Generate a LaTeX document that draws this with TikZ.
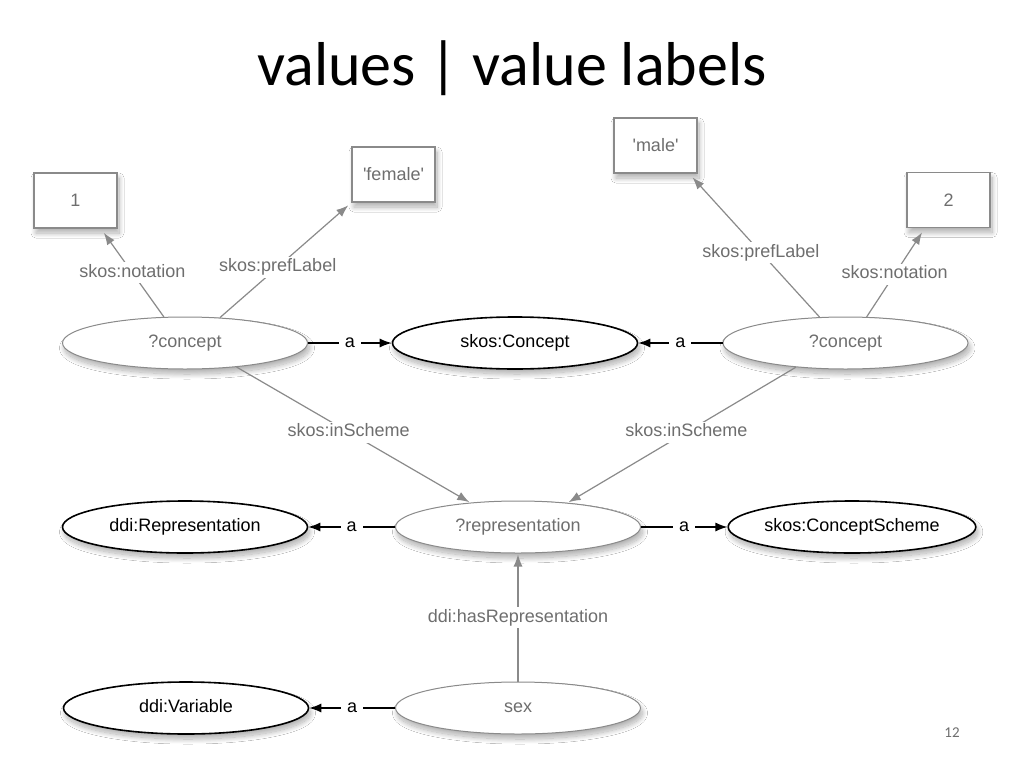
\documentclass[tikz,border=0pt]{standalone}
\usepackage{fontspec}
\setmainfont{Liberation Sans}
\newfontfamily\dfont{Liberation Sans}
\newfontfamily\titlefont{Carlito}
\usetikzlibrary{arrows.meta,shapes.geometric,shadows.blur}
\definecolor{edgegray}{HTML}{8A8A8A}
\definecolor{textgray}{HTML}{6E6E6E}
\begin{document}
\begin{tikzpicture}[x=1pt,y=-1pt,
  every node/.style={font=\dfont\fontsize{18}{20}\selectfont, text height=13pt, text depth=4pt},
  shad/.style={blur shadow={shadow xshift=2pt,shadow yshift=-5pt,shadow blur steps=20,shadow opacity=32,shadow blur radius=5pt}},
  grayell/.style={ellipse, draw=edgegray, line width=1pt, fill=white, text=textgray, minimum width=245pt, minimum height=52pt, inner sep=0pt, shad},
  blackell/.style={ellipse, draw=black, line width=1.6pt, fill=white, text=black, minimum width=245pt, minimum height=52pt, inner sep=0pt, shad},
  valbox/.style={rectangle, draw=edgegray, line width=1.5pt, fill=white, text=textgray, minimum width=83pt, minimum height=55pt, inner sep=0pt, text height=12pt, text depth=0pt, shad},
  garrow/.style={draw=edgegray, line width=1.2pt, -{Latex[length=12pt,width=9pt]}, shorten >=5pt},
  barrow/.style={draw=black, line width=1.2pt, -{Latex[length=12pt,width=9pt]}},
  glabel/.style={fill=white, text=textgray, inner sep=2pt},
  blabel/.style={fill=white, text=black, inner sep=6pt},
]
\fill[white] (0,0) rectangle (1024,768);
\useasboundingbox (0,0) rectangle (1024,768);

\node[font=\titlefont\fontsize{62}{70}\selectfont, anchor=base, text height=, text depth=] (title) at (512,85) {values | value labels};
\node[font=\titlefont\fontsize{15}{18}\selectfont, text=textgray, text height=, text depth=] (pg) at (952,733) {12};

\node[valbox] (one) at (75.5,200.5) {1};
\node[valbox] (fem) at (393.5,174.5) {'female'};
\node[valbox] (male) at (655.5,145.5) {'male'};
\node[valbox] (two) at (948.5,200) {2};

\node[grayell] (c1) at (185,343) {?concept};
\node[blackell] (sc) at (515,343) {skos:Concept};
\node[grayell] (c2) at (845.5,343) {?concept};
\node[blackell] (dr) at (185,527) {ddi:Representation};
\node[grayell] (rep) at (518,527) {?representation};
\node[blackell] (cs) at (852,527) {skos:ConceptScheme};
\node[blackell] (dv) at (186,708) {ddi:Variable};
\node[grayell] (sex) at (518,708) {sex};

\draw[garrow] (c1.129) -- node[glabel,pos=0.5]{skos:notation} (one.-48);
\draw[garrow, shorten >=4pt] (c1.36) -- node[glabel,pos=0.44]{skos:prefLabel} (fem.south west);
\draw[garrow] (c2.135) -- node[glabel,pos=0.45]{skos:prefLabel} (male.-40);
\draw[garrow] (c2.51) -- node[glabel,pos=0.48]{skos:notation} (two.-130);
\draw[garrow, shorten >=1pt] (c1.-25) -- node[glabel,pos=0.48]{skos:inScheme} (rep.153);
\draw[garrow, shorten >=1pt] (c2.206) -- node[glabel,pos=0.48]{skos:inScheme} (rep.26);
\draw[garrow, shorten >=1pt] (sex.north) -- node[glabel,pos=0.5]{ddi:hasRepresentation} (rep.south);

\draw[barrow] (c1.east) -- node[blabel]{a} (sc.west);
\draw[barrow] (c2.west) -- node[blabel]{a} (sc.east);
\draw[barrow] (rep.west) -- node[blabel]{a} (dr.east);
\draw[barrow] (rep.east) -- node[blabel]{a} (cs.west);
\draw[barrow] (sex.west) -- node[blabel]{a} (dv.east);
\end{tikzpicture}
\end{document}
